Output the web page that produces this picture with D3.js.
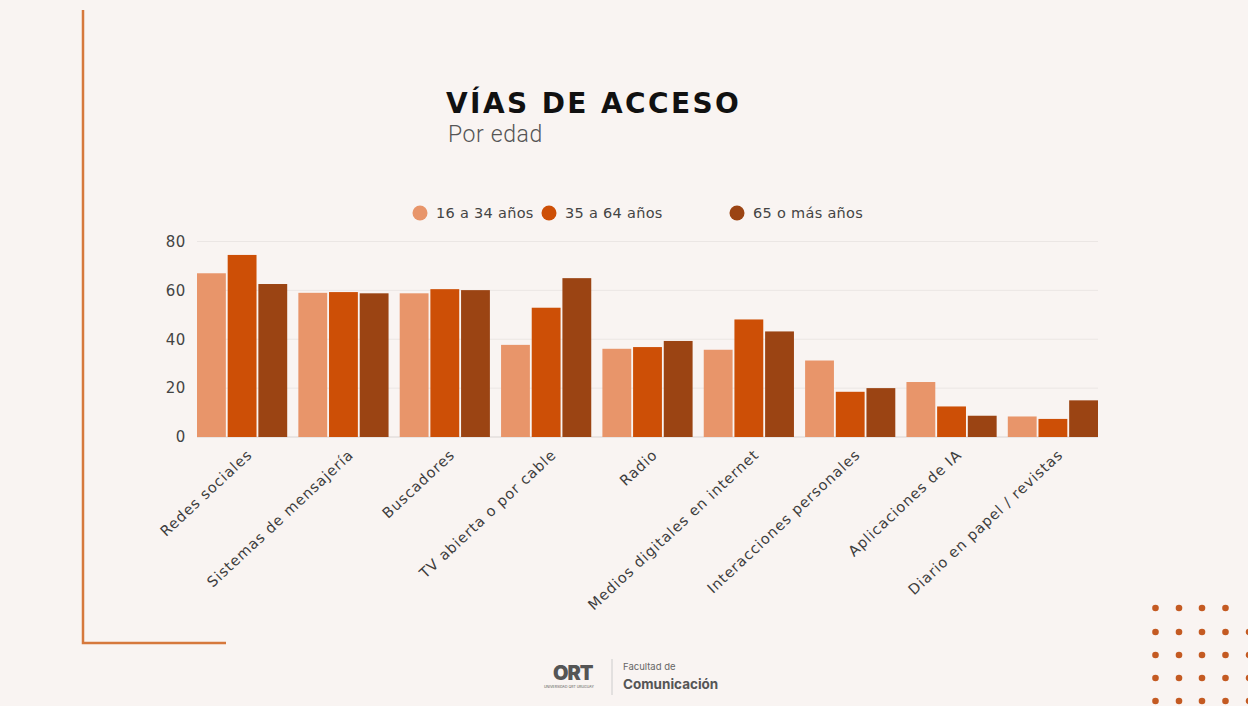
<!DOCTYPE html>
<meta charset="utf-8">
<style>
html, body { margin: 0; padding: 0; overflow: hidden; }
body { background: #f9f4f2; }
svg { display: block; }
.tick text { font-family: "DejaVu Sans", sans-serif; }
</style>
<svg width="1248" height="706"></svg>
<script src="https://d3js.org/d3.v7.min.js"></script>
<script>

var categories = ["Redes sociales", "Sistemas de mensajería", "Buscadores", "TV abierta o por cable",
  "Radio", "Medios digitales en internet", "Interacciones personales", "Aplicaciones de IA",
  "Diario en papel / revistas"];
var seriesNames = ["16 a 34 años", "35 a 64 años", "65 o más años"];
var young = [67, 59, 58.8, 37.7, 36.1, 35.7, 31.3, 22.5, 8.4];
var middle = [74.5, 59.3, 60.5, 52.9, 36.8, 48.1, 18.5, 12.5, 7.4];
var senior = [62.6, 58.8, 60.1, 65, 39.3, 43.2, 20, 8.7, 15];
var yTicks = [0, 20, 40, 60, 80];
var colors = ["#e8956a", "#cd4f06", "#9b4413"];

var values = [young, middle, senior];
var rows = categories.map(function(c, i) {
  return { name: c, vals: seriesNames.map(function(s, j) { return { key: s, value: values[j][i] }; }) };
});

var svg = d3.select("svg");

// frame decoration
svg.append("path")
  .attr("d", "M83,10 V643 H226")
  .attr("fill", "none")
  .attr("stroke", "#d6783c")
  .attr("stroke-width", 2.5);

// title
svg.append("text")
  .attr("x", 446).attr("y", 113)
  .style("font-family", "'DejaVu Sans', sans-serif")
  .style("font-weight", 700)
  .style("font-size", "28px")
  .style("letter-spacing", "2.4px")
  .attr("fill", "#111")
  .text("VÍAS DE ACCESO");
svg.append("text")
  .attr("x", 448).attr("y", 142)
  .style("font-family", "Roboto, sans-serif")
  .style("font-weight", 300)
  .style("font-size", "23px")
  .style("letter-spacing", "0.6px")
  .attr("fill", "#555")
  .text("Por edad");

var x0 = d3.scaleBand().domain(categories).range([197, 1098]).paddingInner(0.11).paddingOuter(0);
var x1 = d3.scaleBand().domain(seriesNames).range([0, x0.bandwidth()]).paddingInner(0.06);
var y = d3.scaleLinear().domain([0, 80]).range([437, 241.5]);
var color = d3.scaleOrdinal().domain(seriesNames).range(colors);

// grid
svg.append("g")
  .selectAll("line")
  .data(yTicks)
  .join("line")
  .attr("x1", 197).attr("x2", 1098)
  .attr("y1", function(d) { return y(d); })
  .attr("y2", function(d) { return y(d); })
  .attr("stroke", function(d) { return d === 0 ? "#d9d4d2" : "#ebe6e4"; })
  .attr("stroke-width", 1);

// y axis
var yAxis = svg.append("g")
  .attr("transform", "translate(186,0)")
  .call(d3.axisLeft(y).tickValues(yTicks).tickSize(0).tickPadding(0));
yAxis.select(".domain").remove();
yAxis.selectAll("text")
  .attr("fill", "#444")
  .style("font-size", "15px")
  .style("letter-spacing", "0.6px");

// bars
svg.append("g")
  .selectAll("g")
  .data(rows)
  .join("g")
  .attr("transform", function(d) { return "translate(" + x0(d.name) + ",0)"; })
  .selectAll("rect")
  .data(function(d) { return d.vals; })
  .join("rect")
  .attr("x", function(d) { return x1(d.key); })
  .attr("width", x1.bandwidth())
  .attr("y", function(d) { return y(d.value); })
  .attr("height", function(d) { return y(0) - y(d.value); })
  .attr("fill", function(d) { return color(d.key); });

// x axis labels
var xAxis = svg.append("g")
  .attr("transform", "translate(0,437)")
  .call(d3.axisBottom(x0).tickSize(0).tickPadding(0));
xAxis.select(".domain").remove();
xAxis.selectAll("text")
  .attr("fill", "#3d3d3d")
  .style("font-size", "14.5px")
  .style("letter-spacing", "0.9px")
  .attr("text-anchor", "end")
  .attr("dy", 0)
  .attr("transform", "translate(11,19) rotate(-43)");

// legend
var legendX = [420, 549, 737];
var legend = svg.append("g")
  .selectAll("g")
  .data(seriesNames)
  .join("g")
  .attr("transform", function(d, i) { return "translate(" + legendX[i] + ",213)"; });
legend.append("circle").attr("r", 7.5).attr("fill", function(d) { return color(d); });
legend.append("text")
  .attr("x", 16).attr("dy", "0.35em")
  .style("font-family", "'DejaVu Sans', sans-serif")
  .style("font-size", "14.5px")
  .style("letter-spacing", "0.3px")
  .attr("fill", "#444")
  .text(function(d) { return d; });

// footer logo
var logo = svg.append("g").attr("fill", "#555");
logo.append("text").attr("x", 553).attr("y", 680)
  .style("font-family", "Inter, sans-serif").style("font-weight", 900).style("font-size", "20px")
  .style("letter-spacing", "-1px").text("ORT");
logo.append("text").attr("x", 544).attr("y", 688)
  .style("font-family", "Inter, sans-serif").style("font-size", "3.5px").text("UNIVERSIDAD ORT URUGUAY");
logo.append("line").attr("x1", 612).attr("x2", 612).attr("y1", 659).attr("y2", 695)
  .attr("stroke", "#ccc");
logo.append("text").attr("x", 623).attr("y", 670)
  .style("font-family", "Inter, sans-serif").style("font-size", "9.5px").attr("fill", "#666").text("Facultad de");
logo.append("text").attr("x", 623).attr("y", 689)
  .style("font-family", "Inter, sans-serif").style("font-weight", 700).style("font-size", "13.5px").text("Comunicación");

// decorative dots
var dotCols = [1155.5, 1179, 1202, 1225.5, 1249];
var dotRows = [608, 632, 655, 678, 701];
var dots = [];
dotRows.forEach(function(ry, r) {
  dotCols.forEach(function(cx, c) {
    if (r === 0 && c === 4) return;
    dots.push([cx, ry]);
  });
});
svg.append("g")
  .selectAll("circle")
  .data(dots)
  .join("circle")
  .attr("cx", function(d) { return d[0]; })
  .attr("cy", function(d) { return d[1]; })
  .attr("r", 3.3)
  .attr("fill", "#c45a22");

</script>
